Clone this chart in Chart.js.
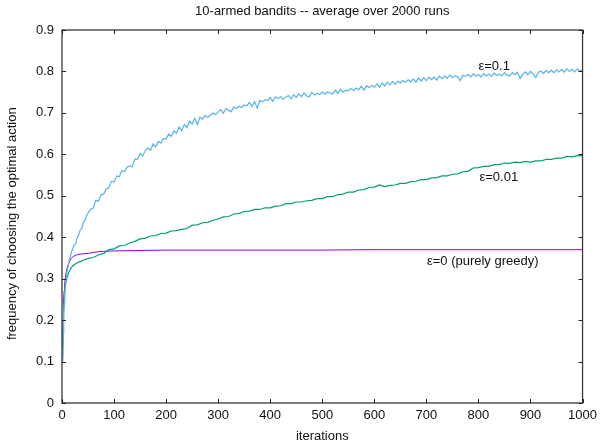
<!DOCTYPE html>
<html><head><meta charset="utf-8">
<script src="https://cdn.jsdelivr.net/npm/chart.js@4/dist/chart.umd.min.js"></script>
<style>html,body{margin:0;padding:0;background:#fff;}</style>
</head><body>
<canvas id="c" width="602" height="444"></canvas>
<script>
// ---- data ----
const earlyIters = [1,2,3,4,5,6,8,10,12,14,16,18,20,23,26,29,32,35,38,41,44,47,50];

const blueEarly = [0.100,0.165,0.205,0.238,0.258,0.275,0.300,0.318,0.331,0.346,0.352,0.365,0.370,0.381,0.384,0.399,0.405,0.418,0.421,0.436,0.440,0.452,0.458];
// eps=0.1, iterations 55..1000 every 5
const blueLate = [
0.468,0.470,0.489,0.487,0.503,0.504,0.517,0.519,0.535,0.533,
0.548,0.546,0.561,0.558,0.569,0.572,0.570,0.589,0.588,0.602,
0.596,0.609,0.615,0.610,0.625,0.618,0.631,0.627,0.638,0.637,
0.649,0.643,0.657,0.651,0.666,0.657,0.672,0.664,0.680,0.673,
0.687,0.672,0.690,0.685,0.694,0.689,0.695,0.700,0.696,0.702,
0.708,0.699,0.711,0.706,0.703,0.714,0.710,0.716,0.713,0.719,
0.717,0.725,0.716,0.727,0.712,0.730,0.726,0.732,0.729,0.737,
0.728,0.739,0.735,0.739,0.733,0.738,0.742,0.734,0.744,0.737,
0.746,0.739,0.748,0.741,0.739,0.750,0.743,0.747,0.744,0.750,
0.745,0.751,0.748,0.745,0.755,0.747,0.757,0.750,0.755,0.753,
0.759,0.754,0.760,0.756,0.764,0.755,0.765,0.761,0.766,0.762,
0.770,0.762,0.772,0.765,0.774,0.767,0.776,0.769,0.777,0.772,
0.778,0.774,0.780,0.775,0.782,0.774,0.784,0.777,0.785,0.778,
0.786,0.780,0.787,0.779,0.789,0.782,0.789,0.784,0.791,0.785,
0.790,0.787,0.778,0.791,0.788,0.793,0.787,0.794,0.789,0.792,
0.787,0.795,0.789,0.794,0.788,0.796,0.790,0.794,0.789,0.797,
0.791,0.789,0.797,0.792,0.798,0.783,0.793,0.799,0.792,0.800,
0.794,0.785,0.798,0.801,0.795,0.802,0.797,0.803,0.797,0.804,
0.799,0.805,0.798,0.806,0.800,0.805,0.799,0.806,0.801,0.802];

const greenEarly = [0.100,0.170,0.215,0.245,0.265,0.278,0.295,0.305,0.312,0.318,0.322,0.327,0.330,0.333,0.336,0.338,0.340,0.341,0.343,0.345,0.346,0.347,0.349];
// eps=0.01, iterations 60..1000 every 10
const greenLate = [
0.351,0.357,0.361,0.370,0.372,0.379,0.380,0.386,0.390,0.396,
0.398,0.403,0.404,0.409,0.410,0.415,0.416,0.419,0.421,0.429,
0.430,0.435,0.436,0.441,0.444,0.449,0.450,0.456,0.457,0.462,
0.463,0.467,0.467,0.471,0.471,0.475,0.476,0.481,0.481,0.485,
0.485,0.488,0.489,0.493,0.493,0.498,0.498,0.503,0.504,0.509,
0.509,0.514,0.515,0.520,0.521,0.526,0.522,0.525,0.526,0.530,
0.530,0.534,0.535,0.539,0.539,0.543,0.544,0.548,0.548,0.552,
0.553,0.558,0.559,0.567,0.568,0.571,0.571,0.575,0.575,0.579,
0.578,0.581,0.580,0.583,0.581,0.584,0.584,0.588,0.588,0.591,
0.591,0.595,0.594,0.597,0.597];

const purpleIters = [1,2,3,4,5,6,8,10,12,14,16,18,20,25,30,40,50,60,70,80,100,150,200,300,400,500,600,700,800,900,1000];
const purpleVals  = [0.100,0.200,0.245,0.270,0.285,0.298,0.315,0.326,0.334,0.340,0.345,0.349,0.352,0.356,0.358,0.360,0.361,0.363,0.365,0.366,0.367,0.368,0.369,0.369,0.369,0.369,0.370,0.370,0.370,0.370,0.370];

const seriesNames = ['ε=0.1','ε=0.01','ε=0 (purely greedy)'];
const seriesColors = ['#56B4E9','#009E73','#9400D3'];
// label anchor [iteration, value] for each series label
const labelAnchors = [[800,0.811],[802,0.545],[701,0.342]];
const xTickLabels = ['0','100','200','300','400','500','600','700','800','900','1000'];
const yTickLabels = ['0','0.1','0.2','0.3','0.4','0.5','0.6','0.7','0.8','0.9'];
const titleText = '10-armed bandits -- average over 2000 runs';
const xTitle = 'iterations';
const yTitle = 'frequency of choosing the optimal action';

// ---- build datasets ----
function pts(iters, vals){ return iters.map((x,i)=>({x:x,y:vals[i]})); }
const blueIters = earlyIters.slice(); for(let it=55; it<=1000; it+=5) blueIters.push(it);
const greenIters = earlyIters.slice(); for(let it=60; it<=1000; it+=10) greenIters.push(it);
const blueData = pts(blueIters, blueEarly.concat(blueLate));
const greenData = pts(greenIters, greenEarly.concat(greenLate));
const purpleData = pts(purpleIters, purpleVals);

const FONT = 'Liberation Sans, Arial, Helvetica, sans-serif';
const TXT = '#111';

const framePlugin = {
  id:'frame',
  afterDatasetsDraw(chart){
    const {ctx, chartArea:a, scales:{x,y}} = chart;
    ctx.save();
    ctx.strokeStyle = '#3a3a3a';
    ctx.lineWidth = 1.3;
    ctx.strokeRect(a.left, a.top, a.right-a.left, a.bottom-a.top);
    ctx.lineWidth = 1;
    ctx.strokeStyle = '#222';
    ctx.beginPath();
    x.ticks.forEach(t=>{
      const px = Math.round(x.getPixelForValue(t.value))+0.5;
      ctx.moveTo(px, a.bottom); ctx.lineTo(px, a.bottom-4);
      ctx.moveTo(px, a.top); ctx.lineTo(px, a.top+4);
    });
    y.ticks.forEach(t=>{
      const py = Math.round(y.getPixelForValue(t.value))+0.5;
      ctx.moveTo(a.left, py); ctx.lineTo(a.left+4, py);
      ctx.moveTo(a.right, py); ctx.lineTo(a.right-4, py);
    });
    ctx.stroke();
    ctx.fillStyle = TXT;
    ctx.font = '13px ' + FONT;
    ctx.textAlign = 'left';
    ctx.textBaseline = 'middle';
    labelAnchors.forEach((p,i)=>{
      ctx.fillText(seriesNames[i], x.getPixelForValue(p[0]), y.getPixelForValue(p[1]));
    });
    ctx.restore();
  }
};

new Chart(document.getElementById('c'), {
  type:'line',
  data:{datasets:[
    {label:seriesNames[0], data:blueData, borderColor:seriesColors[0], borderWidth:1.2, pointRadius:0, tension:0, fill:false},
    {label:seriesNames[1], data:greenData, borderColor:seriesColors[1], borderWidth:1.2, pointRadius:0, tension:0, fill:false},
    {label:seriesNames[2], data:purpleData, borderColor:seriesColors[2], borderWidth:1, pointRadius:0, tension:0, fill:false}
  ]},
  options:{
    responsive:false, animation:false, devicePixelRatio:1,
    layout:{padding:{left:0,right:18,top:0,bottom:0}},
    plugins:{
      legend:{display:false}, tooltip:{enabled:false},
      title:{display:true, text:titleText, color:TXT, fullSize:false,
             font:{family:FONT, size:13, weight:'normal'}, padding:{top:4,bottom:10.4}}
    },
    scales:{
      x:{type:'linear', min:0, max:1000,
         afterFit(s){ s.height = 41; },
         grid:{display:false, drawTicks:false}, border:{display:false},
         ticks:{stepSize:100, color:TXT, font:{family:FONT,size:13}, padding:5, maxRotation:0, autoSkip:false,
                callback:(v,i)=>xTickLabels[i]},
         title:{display:true, text:xTitle, color:TXT, font:{family:FONT,size:13}, padding:{top:0,bottom:0}}},
      y:{type:'linear', min:0, max:0.9,
         afterFit(s){ s.width = 62; },
         grid:{display:false, drawTicks:false}, border:{display:false},
         ticks:{stepSize:0.1, color:TXT, font:{family:FONT,size:13}, padding:8, autoSkip:false,
                callback:(v,i)=>yTickLabels[i]},
         title:{display:true, text:yTitle + '    ', color:TXT, font:{family:FONT,size:13}, padding:{top:5,bottom:0}}}
    }
  },
  plugins:[framePlugin]
});
</script>
</body></html>
